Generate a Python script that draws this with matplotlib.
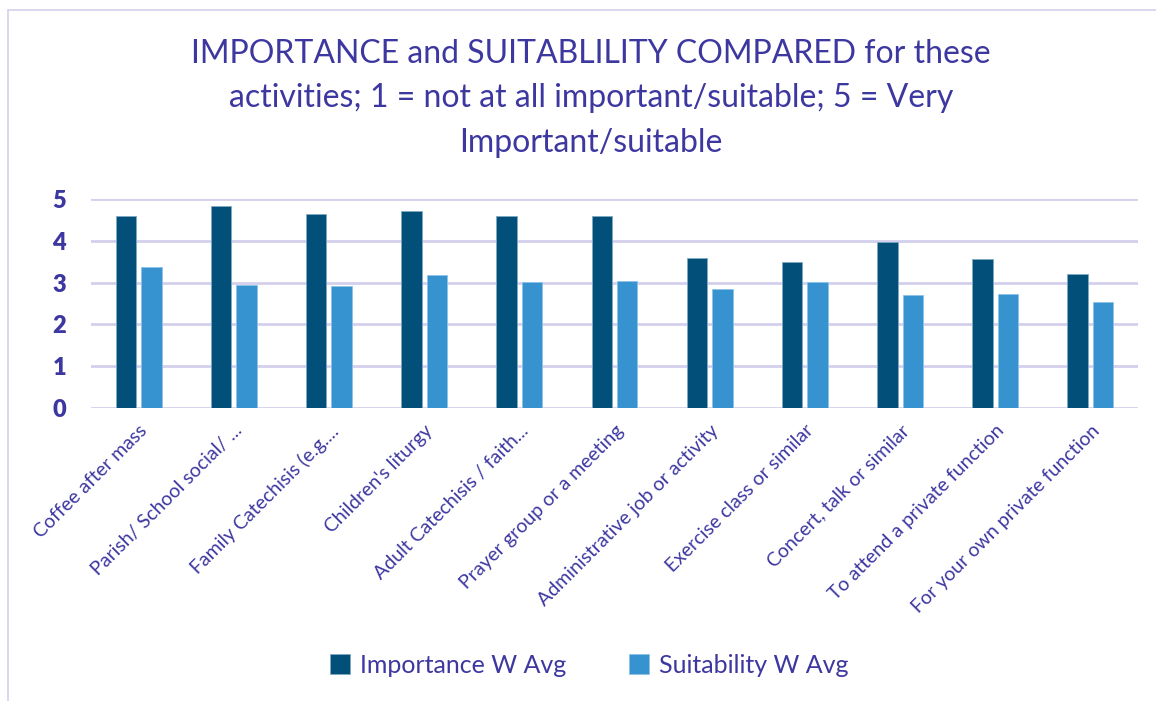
import numpy as np
import matplotlib.pyplot as plt
from matplotlib.patches import Rectangle

# Activities and weighted averages
activities = ["Coffee after mass", "Parish/ School social/ ...", "Family Catechisis (e.g....",
              "Children's liturgy", "Adult Catechisis / faith...", "Prayer group or a meeting",
              "Administrative job or activity", "Exercise class or similar", "Concert, talk or similar",
              "To attend a private function", "For your own private function"]
importance = [4.60, 4.83, 4.65, 4.72, 4.60, 4.60, 3.60, 3.50, 3.97, 3.56, 3.20]
suitability = [3.37, 2.95, 2.91, 3.17, 3.01, 3.04, 2.85, 3.01, 2.70, 2.72, 2.53]
yticks = [0, 1, 2, 3, 4, 5]

txt = '#3d37a0'
dark = '#02507a'
light = '#3792d0'
grid = '#d3cfec'

plt.rcParams['font.family'] = ['Lato', 'DejaVu Sans']

fig = plt.figure(figsize=(11.56, 7.01), dpi=100)
ax = fig.add_axes([91/1156, 1 - 408/701, (1138 - 91)/1156, (408 - 199)/701])

x = np.arange(len(activities))
w = 0.215
ax.bar(x - 0.134, importance, w, color=dark, edgecolor='#7fa9c2', linewidth=0.6, label='Importance W Avg', zorder=3)
ax.bar(x + 0.134, suitability, w, color=light, edgecolor='#8cc3e8', linewidth=0.6, label='Suitability W Avg', zorder=3)

ax.set_xlim(-0.5, len(activities) - 0.5)
ax.set_ylim(0, 5)
ax.set_yticks(yticks)
ax.set_yticklabels([str(t) for t in yticks], fontsize=17, fontweight='heavy', color=txt)
ax.yaxis.grid(True, color=grid, linewidth=2, zorder=0)
ax.set_axisbelow(True)
for s in ax.spines.values():
    s.set_visible(False)
ax.tick_params(axis='both', length=0)
ax.tick_params(axis='y', pad=18)

ax.set_xticks(x)
ax.set_xticklabels(activities, rotation=45, ha='right', va='top', rotation_mode='anchor',
                   fontsize=14, color=txt)
ax.tick_params(axis='x', pad=10)

fig.text(0.511, 0.860, "IMPORTANCE and SUITABLILITY COMPARED for these\n"
         "activities; 1 = not at all important/suitable; 5 = Very\nImportant/suitable",
         ha='center', va='center', fontsize=23, color=txt, linespacing=1.6)

fig.legend(loc='center', bbox_to_anchor=(0.51, 0.051), ncol=2, frameon=False,
           fontsize=18, labelcolor=txt, handlelength=0.8, handleheight=0.8,
           handletextpad=0.4, columnspacing=2.5)

# light chart border
fig.patches.append(Rectangle((8/1156, -0.01), 1.1, 1 - 10/701 + 0.01, transform=fig.transFigure,
                             fill=False, edgecolor=grid, linewidth=1.2))

plt.savefig('out.png')
